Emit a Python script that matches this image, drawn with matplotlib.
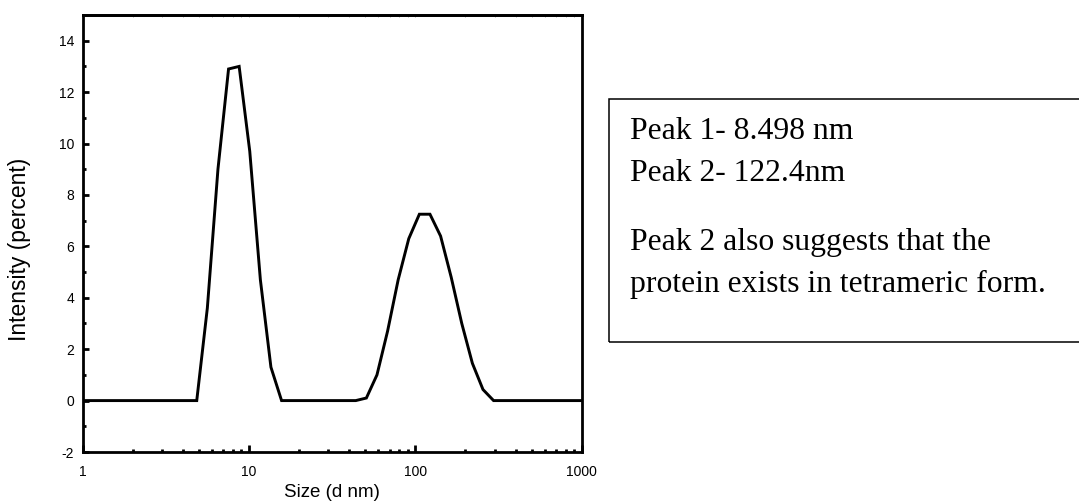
"""DLS size distribution (intensity) with peak notes"""

import matplotlib
matplotlib.use('Agg')
import matplotlib.pyplot as plt
import matplotlib.patches as patches
from matplotlib.ticker import LogLocator, FixedLocator, NullFormatter

plt.rcParams['font.family'] = ['Liberation Sans', 'DejaVu Sans']

# size bins (d nm) and intensity (%)
size_nm = [0.9649, 1.117, 1.294, 1.499, 1.736, 2.010, 2.328, 2.696, 3.122, 3.615,
           4.187, 4.849, 5.615, 6.503, 7.531, 8.721, 10.10, 11.70, 13.54, 15.69,
           18.17, 21.04, 24.36, 28.21, 32.67, 37.84, 43.82, 50.75, 58.77, 68.06,
           78.82, 91.28, 105.7, 122.4, 141.8, 164.2, 190.1, 220.2, 255.0, 295.3,
           342.0, 396.1, 458.7, 531.2, 615.1, 712.4, 825.0, 955.4, 1106.0]
intensity = [0, 0, 0, 0, 0, 0, 0, 0, 0, 0,
             0, 0, 3.6, 9.0, 12.9, 13.0, 9.7, 4.7, 1.3, 0,
             0, 0, 0, 0, 0, 0, 0, 0.1, 1.0, 2.7,
             4.7, 6.3, 7.25, 7.25, 6.4, 4.8, 3.0, 1.45, 0.43, 0,
             0, 0, 0, 0, 0, 0, 0, 0, 0]

y_major = [-2, 0, 2, 4, 6, 8, 10, 12, 14]
y_minor = [-1, 1, 3, 5, 7, 9, 11, 13]

notes = ['Peak 1- 8.498 nm', 'Peak 2- 122.4nm',
         'Peak 2 also suggests that the', 'protein exists in tetrameric form.']

W, H = 1079, 504
fig = plt.figure(figsize=(W / 100, H / 100), dpi=100)

# === axes ===
ax = fig.add_axes([82.7 / W, (H - 452) / H, 499 / W, 437 / H])
ax.plot(size_nm, intensity, color='black', linewidth=2.1, solid_joinstyle='miter')
ax.set_xscale('log')
ax.set_xlim(1, 1000)
ax.set_ylim(-2, 15)

for s in ax.spines.values():
    s.set_linewidth(2.0)

ax.xaxis.set_major_locator(FixedLocator([1, 10, 100, 1000]))
ax.xaxis.set_minor_locator(LogLocator(base=10, subs=range(2, 10)))
ax.xaxis.set_minor_formatter(NullFormatter())
ax.set_xticklabels(['1', '10', '100', '1000'])
ax.yaxis.set_major_locator(FixedLocator(y_major))
ax.yaxis.set_minor_locator(FixedLocator(y_minor))
ax.set_yticklabels([str(v) for v in y_major])

ax.tick_params(axis='x', which='major', direction='in', length=5, width=2,
               labelsize=10, pad=9)
ax.tick_params(axis='x', which='minor', direction='in', length=2.3, width=2)
ax.tick_params(axis='y', which='major', direction='in', length=4, width=2,
               labelsize=10, pad=6)
ax.tick_params(axis='y', which='minor', direction='in', length=2, width=2)

# faint ticks along the top edge
sec = ax.secondary_xaxis('top')
sec.set_xticks([1, 10, 100, 1000])
sec.xaxis.set_minor_locator(LogLocator(base=10, subs=range(2, 10)))
sec.xaxis.set_minor_formatter(NullFormatter())
sec.tick_params(which='both', direction='in', length=1.5, width=0.6,
                color='#999999', labeltop=False)
sec.spines['top'].set_linewidth(2.0)

ax.set_xlabel('Size (d nm)', fontsize=13.5, labelpad=4)
ax.set_ylabel('Intensity (percent)', fontsize=16.5)
ax.yaxis.set_label_coords(-0.104, 0.4645)

# === note box ===
box = patches.Rectangle((609 / W, 1 - 341.7 / H), 0.45, (341.7 - 99) / H,
                        transform=fig.transFigure, fill=False,
                        edgecolor='black', linewidth=1.1)
fig.patches.append(box)

baselines = [139, 180.7, 250, 291.7]
for line, yb in zip(notes, baselines):
    fig.text(630 / W, 1 - yb / H, line, family=['Liberation Serif', 'DejaVu Serif'],
             fontsize=22.8, va='baseline', ha='left')

plt.savefig('out.png', dpi=100)
